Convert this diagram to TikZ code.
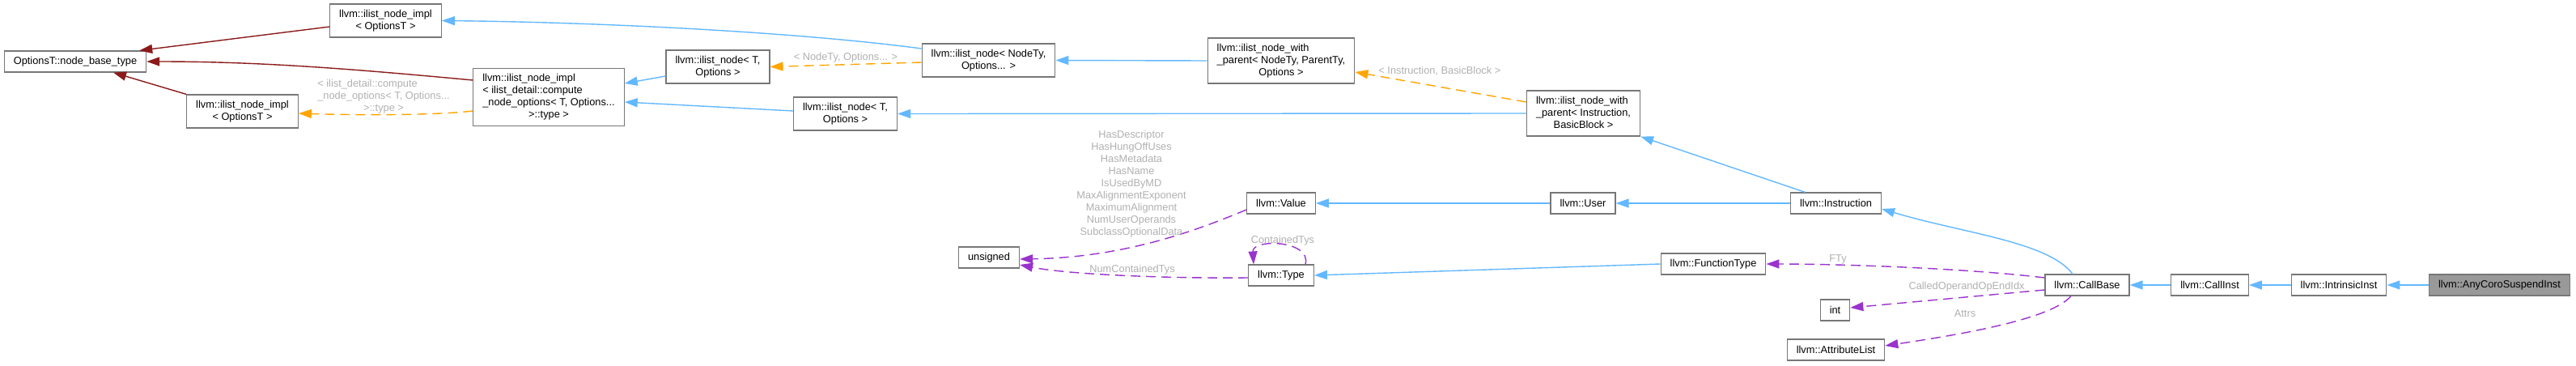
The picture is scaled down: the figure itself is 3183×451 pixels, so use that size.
\documentclass[tikz,border=0pt]{standalone}
\usepackage{fontspec}
\setmainfont{Liberation Sans}
\usetikzlibrary{arrows.meta,calc}
\definecolor{kek}{HTML}{63B8FF}
\definecolor{bordo}{HTML}{8B1A1A}
\definecolor{narancs}{HTML}{FFA500}
\definecolor{lila}{HTML}{9A32CD}
\definecolor{szurke}{HTML}{B0B0B0}
\definecolor{keret}{HTML}{777777}
\definecolor{kitolt}{HTML}{999999}
\newcommand{\sorok}[2]{\begin{tabular}{@{}l@{}}#1\\\multicolumn{1}{@{}c@{}}{#2}\end{tabular}}
\tikzset{
  oszt/.style={draw=keret,line width=0.6pt,fill=white,inner xsep=5.75pt,inner ysep=2.75pt,minimum height=13pt},
  fo/.style={oszt,fill=kitolt},
  fej/.style={-{Triangle[length=8pt,width=5.5pt]}},
  orok/.style={fej,kek,line width=0.7pt},
  bazis/.style={fej,bordo,line width=0.7pt},
  sablon/.style={fej,narancs,line width=0.7pt,dash pattern=on 6pt off 3.5pt},
  hasz/.style={fej,lila,line width=0.7pt,dash pattern=on 6pt off 3.5pt},
  cimke/.style={text=szurke,inner sep=0pt,align=center},
}
\begin{document}
\begin{tikzpicture}[x=0.5pt,y=-0.5pt,font=\fontsize{6.4pt}{7.5pt}\selectfont]
  \useasboundingbox (0,0) rectangle (3183,451);
  \node[oszt] (nbase) at (93,76) {OptionsT::node\_base\_type};
  \node[oszt] (implTop) at (476.5,25.5) {\sorok{llvm::ilist\_node\_impl}{< OptionsT >}};
  \node[oszt] (implLow) at (299.5,137.5) {\sorok{llvm::ilist\_node\_impl}{< OptionsT >}};
  \node[oszt] (implCmp) at (678,120)
    {\sorok{llvm::ilist\_node\_impl\\< ilist\_detail::compute\\\_node\_options< T, Options...}{>::type >}};
  \node[oszt] (nodeT1) at (887,82.5) {\sorok{llvm::ilist\_node< T,}{Options >}};
  \node[oszt] (nodeNT) at (1221.5,74.5) {\sorok{llvm::ilist\_node< NodeTy,}{Options... >}};
  \node[oszt] (nodeT2) at (1044.5,140.5) {\sorok{llvm::ilist\_node< T,}{Options >}};
  \node[oszt] (wpNT) at (1583,75) {\sorok{llvm::ilist\_node\_with\\\_parent< NodeTy, ParentTy,}{Options >}};
  \node[oszt] (wpIB) at (1956.5,140) {\sorok{llvm::ilist\_node\_with\\\_parent< Instruction,}{BasicBlock >}};
  \node[oszt] (unsig) at (1222,318) {unsigned};
  \node[oszt] (value) at (1583,251) {llvm::Value};
  \node[oszt] (type) at (1583,340) {llvm::Type};
  \node[oszt] (user) at (1956,251) {llvm::User};
  \node[oszt] (instr) at (2268.5,251) {llvm::Instruction};
  \node[oszt] (ftype) at (2117,326) {llvm::FunctionType};
  \node[oszt] (cbase) at (2579,352) {llvm::CallBase};
  \node[oszt] (intn) at (2267.5,383) {int};
  \node[oszt] (attr) at (2268.5,432) {llvm::AttributeList};
  \node[oszt] (cinst) at (2730.5,352) {llvm::CallInst};
  \node[oszt] (intr) at (2890,352) {llvm::IntrinsicInst};
  \node[fo] (coro) at (3088.5,352) {llvm::AnyCoroSuspendInst};

  \draw[bazis] ($(implTop.west)+(0,7.5)$) -- ($(nbase.north east)+(-9,0)$);
  \draw[bazis] ($(implCmp.west)+(0,-21)$) .. controls +(-150,-14) and +(140,0) .. (nbase.east);
  \draw[bazis] (implLow.north west) -- ($(nbase.south)+(47,0)$);

  \draw[orok] ($(nodeNT.west)+(0,-14.5)$) .. controls +(-150,-20) and +(200,2) .. (implTop.east);
  \draw[orok] ($(nodeT1.west)+(0,11.5)$) -- ($(implCmp.east)+(0,-17)$);
  \draw[orok] ($(nodeT2.west)+(0,-3.5)$) -- ($(implCmp.east)+(0,6)$);
  \draw[orok] (wpNT.west) -- (nodeNT.east);
  \draw[orok] (wpIB.west) -- (nodeT2.east);
  \draw[orok] ($(instr.north)+(-38,0)$) -- (wpIB.south east);
  \draw[orok] (user.west) -- (value.east);
  \draw[orok] (instr.west) -- (user.east);
  \draw[orok] ($(cbase.north)+(-18,0)$) .. controls +(-30,-40) and +(100,30) .. ($(instr.east)+(0,7)$);
  \draw[orok] (ftype.west) -- (type.east);
  \draw[orok] (cinst.west) -- (cbase.east);
  \draw[orok] (intr.west) -- (cinst.east);
  \draw[orok] (coro.west) -- (intr.east);

  \draw[sablon] ($(implCmp.west)+(0,17)$) .. controls +(-50,6) and +(60,2) .. ($(implLow.east)+(0,2.5)$);
  \node[cimke] (lCmp) at (474,119) {\sorok{< ilist\_detail::compute\\\_node\_options< T, Options...}{>::type >}};
  \draw[sablon] ($(nodeNT.west)+(0,2.5)$) -- (nodeT1.east);
  \node[cimke] (lNT) at (1045,71) {< NodeTy, Options... >};
  \draw[sablon] ($(wpIB.west)+(0,-14)$) -- ($(wpNT.east)+(0,14)$);
  \node[cimke,anchor=west] (lIB) at (1703,88) {< Instruction, BasicBlock >};

  \draw[hasz] ($(value.west)+(0,8)$) .. controls +(-60,25) and +(130,-2) .. ($(unsig.east)+(0,2)$);
  \node[cimke] (lVal) at (1398,227) {HasDescriptor\\HasHungOffUses\\HasMetadata\\HasName\\IsUsedByMD\\
    MaxAlignmentExponent\\MaximumAlignment\\NumUserOperands\\SubclassOptionalData};
  \draw[hasz] ($(type.west)+(0,3)$) .. controls +(-100,1) and +(60,12) .. ($(unsig.east)+(0,9)$);
  \node[cimke] (lNum) at (1399,333) {NumContainedTys};
  \draw[hasz] ($(type.north)+(30,0)$) .. controls +(8,-30) and +(-2,-32) .. ($(type.north)+(-34,0)$);
  \node[cimke] (lCont) at (1585,297) {ContainedTys};
  \draw[hasz] ($(cbase.west)+(0,-9)$) .. controls +(-100,-12) and +(90,0) .. (ftype.east);
  \node[cimke] (lFTy) at (2271,320) {FTy};
  \draw[hasz] ($(cbase.west)+(0,6)$) -- ($(intn.east)+(0,-3)$);
  \node[cimke] (lIdx) at (2430,354) {CalledOperandOpEndIdx};
  \draw[hasz] ($(cbase.south)+(-20,0)$) .. controls +(-25,30) and +(80,-12) .. ($(attr.east)+(0,-5)$);
  \node[cimke] (lAttr) at (2428,387) {Attrs};
\end{tikzpicture}
\end{document}
